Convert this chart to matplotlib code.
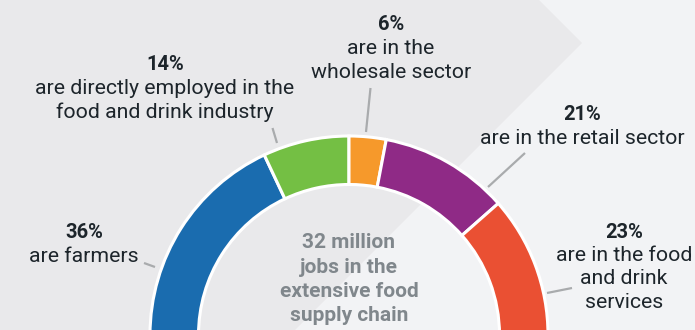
import matplotlib
matplotlib.use("Agg")
import matplotlib.pyplot as plt
from matplotlib.patches import Polygon

plt.rcParams['font.family'] = ['Roboto', 'DejaVu Sans']

# Share of jobs in the food supply chain
sectors = ["farmers", "industry", "wholesale", "retail", "services"]
shares = [36, 14, 6, 21, 23]
descriptions = [
    ["are farmers"],
    ["are directly employed in the", "food and drink industry"],
    ["are in the", "wholesale sector"],
    ["are in the retail sector"],
    ["are in the food", "and drink", "services"],
]
colors = ["#1a6caf", "#74bf44", "#f6992b", "#8f2a86", "#ea5033"]
center_lines = ["32 million", "jobs in the", "extensive food", "supply chain"]

# Label anchor (x, y of the percentage line) and leader line endpoints, in pixels
label_pos = [(84, 233), (165, 65), (391, 25), (582, 115), (624, 232)]
leaders = [
    ((144, 263), (155, 267)),
    ((272.5, 128), (277, 143)),
    ((370.5, 88), (366, 132)),
    ((525, 153), (488, 187)),
    ((572, 288), (547, 293)),
]

W, H = 695, 330
TEXT = "#1d252b"
CENTER_TEXT = "#80878c"
LEADER = "#a9abad"

fig = plt.figure(figsize=(W / 100, H / 100), dpi=100)
ax = fig.add_axes([0, 0, 1, 1])

# Background with a large chevron pointing right
fig.patch.set_facecolor("#f2f3f5")
ax.add_patch(Polygon([(0, 0), (539, 0), (582, 43), (295, 330), (0, 330)],
                     closed=True, facecolor="#e9e9eb", edgecolor="none", zorder=0))

# Half donut: the hidden wedge fills the lower half of the circle
cx, cy = 349, 335
wedges, _ = ax.pie(
    shares + [sum(shares)],
    colors=colors + ["none"],
    startangle=180,
    counterclock=True,
    center=(cx, cy),
    radius=199,
    wedgeprops=dict(width=48.5, edgecolor="white", linewidth=2.2),
    frame=True,
)
wedges[-1].set_visible(False)
for w in wedges:
    w.set_zorder(2)

# Labels: bold percentage over the description
step = 23.5
for share, lines, (x, y) in zip(shares, descriptions, label_pos):
    ax.text(x, y, f"{share}%", ha="center", va="center", fontsize=14.5,
            fontweight="bold", color=TEXT, zorder=3)
    for i, line in enumerate(lines):
        ax.text(x, y + step * (i + 1), line, ha="center", va="center",
                fontsize=15.3, color=TEXT, zorder=3)

for (x0, y0), (x1, y1) in leaders:
    ax.plot([x0, x1], [y0, y1], color=LEADER, linewidth=1.6,
            solid_capstyle="butt", zorder=1)

# Total in the middle of the ring
for i, line in enumerate(center_lines):
    ax.text(cx, 243 + 24.2 * i, line, ha="center", va="center", fontsize=15,
            fontweight="bold", color=CENTER_TEXT, zorder=3)

ax.set_xlim(0, W)
ax.set_ylim(H, 0)
ax.set_aspect("equal")
ax.axis("off")

fig.savefig("out.png", dpi=100, facecolor=fig.get_facecolor())
